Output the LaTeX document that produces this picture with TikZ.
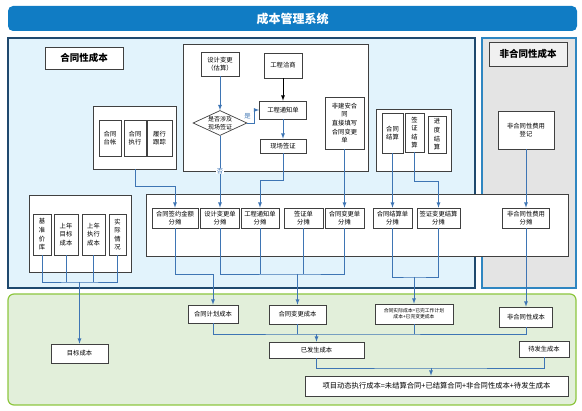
\documentclass[tikz,border=0pt]{standalone}
\usepackage{fontspec}
\setmainfont{Noto Sans CJK SC}
\usetikzlibrary{arrows,shapes,positioning,calc}
\definecolor{titleblue}{RGB}{16,124,196}
\definecolor{conbg}{RGB}{226,243,252}
\definecolor{conborder}{RGB}{31,73,110}
\definecolor{nonbg}{RGB}{228,228,228}
\definecolor{nonborder}{RGB}{46,134,193}
\definecolor{greenbg}{RGB}{226,239,218}
\definecolor{greenborder}{RGB}{141,198,63}
\definecolor{linkblue}{RGB}{62,117,180}
\definecolor{boxgray}{RGB}{64,64,64}

\begin{document}
\begin{tikzpicture}[x=1pt, y=-1pt,
    box/.style={rectangle, draw=boxgray, fill=white, line width=0.7pt, inner sep=1pt,
                align=center, font=\fontsize{6.3}{8.6}\selectfont},
    group/.style={rectangle, draw=boxgray, fill=white, line width=0.8pt},
    region/.style={rectangle, line width=1.2pt},
    tagbox/.style={rectangle, draw=boxgray, line width=0.8pt, align=center,
                   font=\fontsize{9.5}{11}\bfseries},
    link/.style={linkblue, line width=0.8pt},
    arr/.style={-latex, linkblue, line width=0.8pt}
  ]
    \useasboundingbox (0,0) rectangle (582,411);

    % title and regions
    \node[rectangle, rounded corners=5pt, fill=titleblue, text=white, minimum width=569pt,
          minimum height=25pt, font=\fontsize{12}{14}\bfseries] (title) at (292.5,18.5) {成本管理系统};
    \node[region, draw=conborder, fill=conbg, minimum width=467pt, minimum height=250pt] (conreg) at (241.5,163) {};
    \node[region, draw=nonborder, fill=nonbg, minimum width=94pt, minimum height=250pt] (nonreg) at (529,163) {};
    \node[region, draw=greenborder, fill=greenbg, rounded corners=6pt, minimum width=568pt,
          minimum height=111pt] (greenreg) at (292,349.5) {};

    \node[tagbox, fill=white, minimum width=78pt, minimum height=22pt] (contag) at (84,58) {合同性成本};
    \node[tagbox, fill=gray!12, minimum width=78pt, minimum height=24pt] (nontag) at (528,54) {非合同性成本};

    % groups
    \node[group, minimum width=83pt, minimum height=63pt] (groupA) at (134.5,137.5) {};
    \node[group, minimum width=185pt, minimum height=127pt] (groupB) at (275.5,107.5) {};
    \node[group, minimum width=75pt, minimum height=62pt] (groupC) at (413.5,140) {};
    \node[group, minimum width=102pt, minimum height=77pt] (groupD) at (80,233.5) {};
    \node[group, minimum width=422pt, minimum height=62pt] (groupE) at (357,225) {};

    % contract ledger
    \node[box, minimum width=22pt, minimum height=36pt] (htaizhang) at (110,138) {合同\\台帐};
    \node[box, minimum width=22pt, minimum height=36pt] (hzhixing) at (135,138) {合同\\执行};
    \node[box, minimum width=25pt, minimum height=36pt] (lvxing) at (159.5,138) {履行\\跟踪};

    % change flow
    \node[box, minimum width=38pt, minimum height=24pt] (sjbg) at (220,64) {设计变更\\（估算）};
    \node[box, minimum width=38pt, minimum height=25pt] (gcqs) at (283,65.5) {工程洽商};
    \node[box, diamond, aspect=2, inner sep=0pt, minimum width=54pt, minimum height=25pt,
          font=\fontsize{6}{7.5}\selectfont] (sfsj) at (220,123) {是否涉及\\现场签证};
    \node[box, minimum width=47pt, minimum height=18pt] (gctz) at (283,110) {工程通知单};
    \node[box, minimum width=46pt, minimum height=14pt] (xcqz) at (283,146) {现场签证};
    \node[box, minimum width=39pt, minimum height=52pt] (fjaht) at (344.5,123) {非建安合\\同\\直接填写\\合同变更\\单};

    % settlement
    \node[box, minimum width=21pt, minimum height=40pt] (htjs) at (392.5,133) {合同\\结算};
    \node[box, minimum width=19pt, minimum height=39pt] (qzjs) at (414.5,132.5) {签\\证\\结\\算};
    \node[box, minimum width=18pt, minimum height=37pt] (jdjs) at (437,134.5) {进\\度\\结\\算};

    \node[box, minimum width=56pt, minimum height=38pt] (fhtdj) at (526,130) {非合同性费用\\登记};

    % target cost sources
    \node[box, minimum width=18pt, minimum height=41pt] (jzjk) at (42,234.5) {基\\准\\价\\库};
    \node[box, minimum width=24pt, minimum height=41pt] (sndb) at (66,234.5) {上年\\目标\\成本};
    \node[box, minimum width=23pt, minimum height=41pt] (snzx) at (93.5,234.5) {上年\\执行\\成本};
    \node[box, minimum width=17pt, minimum height=41pt] (sjqk) at (117.5,234.5) {实\\际\\情\\况};

    % allocation
    \node[box, minimum width=46pt, minimum height=20pt] (qyft) at (175,218) {合同签约金额\\分摊};
    \node[box, minimum width=39pt, minimum height=20pt] (sjft) at (220,218) {设计变更单\\分摊};
    \node[box, minimum width=38pt, minimum height=20pt] (tzft) at (260,218) {工程通知单\\分摊};
    \node[box, minimum width=39pt, minimum height=20pt] (qzft) at (303.5,218) {签证单\\分摊};
    \node[box, minimum width=39pt, minimum height=20pt] (bgft) at (344.5,218) {合同变更单\\分摊};
    \node[box, minimum width=39pt, minimum height=20pt] (jsft) at (392.5,218) {合同结算单\\分摊};
    \node[box, minimum width=43pt, minimum height=20pt] (qbft) at (438.5,218) {签证变更结算\\分摊};
    \node[box, minimum width=47pt, minimum height=20pt] (fhft) at (526,218) {非合同性费用\\分摊};

    % costs
    \node[box, minimum width=50pt, minimum height=18pt] (jhcb) at (213,314) {合同计划成本};
    \node[box, minimum width=57pt, minimum height=19pt] (bgcb) at (297.5,314.5) {合同变更成本};
    \node[box, minimum width=78pt, minimum height=20pt, font=\fontsize{4.8}{6.2}\selectfont] (sjcb) at (414,314) {合同实际成本=已完工作计划\\成本+已完变更成本};
    \node[box, minimum width=53pt, minimum height=20pt] (fhcb) at (526,317) {非合同性成本};
    \node[box, minimum width=95pt, minimum height=16pt] (yfs) at (316.5,350) {已发生成本};
    \node[box, minimum width=50pt, minimum height=16pt] (dfs) at (544,349) {待发生成本};
    \node[box, minimum width=263pt, minimum height=20pt, font=\fontsize{7.3}{9}\selectfont] (xmdt) at (436.5,386) {项目动态执行成本=未结算合同+已结算合同+非合同性成本+待发生成本};
    \node[box, minimum width=57pt, minimum height=19pt] (mbcb) at (79.5,353.5) {目标成本};

    % joins
    \coordinate (djoin) at (79.5,282);
    \coordinate (bjoin) at (bgcb |- 0,274);
    \coordinate (cjoin) at (sjcb |- 0,277);
    \coordinate (ejoin) at (yfs |- 0,334);
    \coordinate (fjoin) at (431,368);

    % upper connectors
    \draw[arr] (sjbg) -- (sfsj);
    \draw[arr] (sfsj.east) -- ++(7,0) |- (gctz.west) node[pos=0.25, left=0pt, font=\fontsize{6.3}{7}\selectfont] {是};
    \draw[-latex, line width=0.8pt, black] (gcqs) -- (gctz);
    \draw[arr] (gctz) -- (xcqz);
    \draw[arr] (sfsj.south) -- (sjft.north) node[pos=0.49, fill=white, inner sep=0.5pt, font=\fontsize{6.3}{7}\selectfont] {否};
    \draw[arr] (xcqz.south) -- ++(0,27) -| (tzft.north);
    \draw[arr] (fjaht) -- (bgft);
    \draw[arr] (hzhixing |- groupA.south) -- ++(0,17) -| (qyft.north);
    \draw[arr] (htjs) -- (jsft);
    \draw[arr] (qzjs.south) -- ++(0,29) -| (qbft.north);
    \draw[arr] (fhtdj) -- (fhft);

    % lower connectors
    \draw[link] (jzjk.south) |- (djoin) -| (sjqk.south);
    \draw[link] (sndb.south) -- (sndb.south |- djoin);
    \draw[link] (snzx.south) -- (snzx.south |- djoin);
    \draw[arr] (djoin) -- (mbcb);

    \draw[arr] (qyft.south) -- ++(0,46) -| (jhcb.north);
    \draw[link] (sjft.south) |- (bjoin) -| (bgft.south);
    \draw[link] (tzft.south) -- (tzft.south |- bjoin);
    \draw[link] (qzft.south) -- (qzft.south |- bjoin);
    \draw[arr] (bjoin) -- (bgcb);
    \draw[link] (jsft.south) |- (cjoin) -| (qbft.south);
    \draw[arr] (cjoin) -- (sjcb);
    \draw[arr] (fhft) -- (fhcb);

    \draw[link] (jhcb.south) |- (ejoin) -| (fhcb.south);
    \draw[link] (bgcb.south) -- (bgcb.south |- ejoin);
    \draw[link] (sjcb.south) -- (sjcb.south |- ejoin);
    \draw[arr] (ejoin) -- (yfs);
    \draw[link] (yfs.south) |- (fjoin) -| (dfs.south);
    \draw[arr] (fjoin) -- (fjoin |- xmdt.north);
  \end{tikzpicture}
\end{document}
